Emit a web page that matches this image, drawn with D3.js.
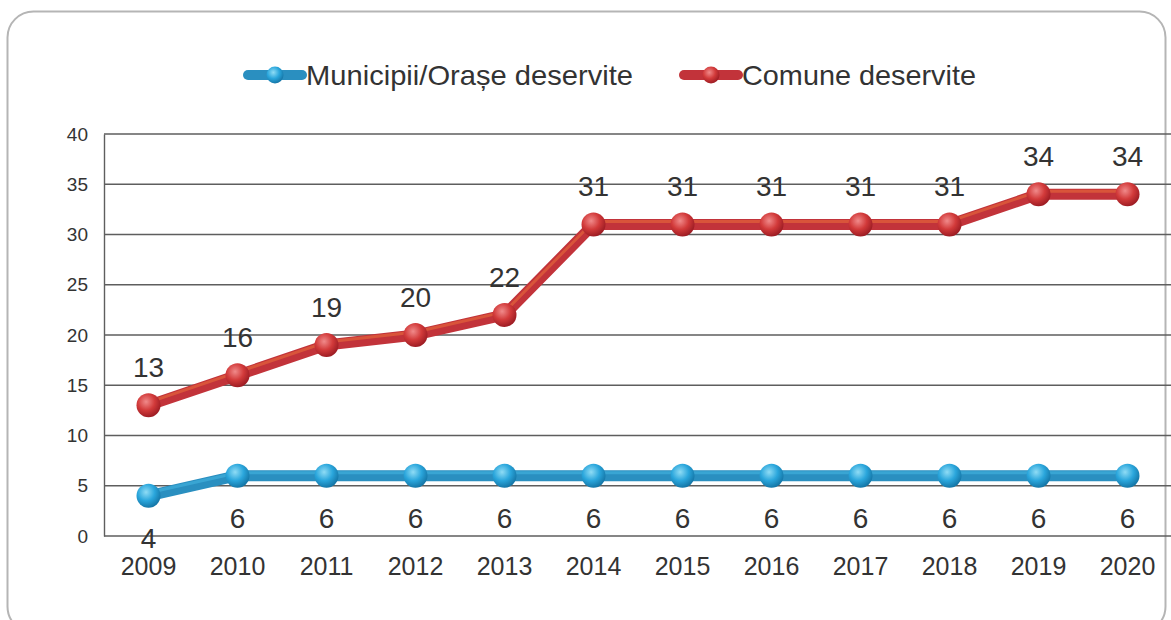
<!DOCTYPE html>
<html><head><meta charset="utf-8">
<script src="https://cdn.jsdelivr.net/npm/d3@7"></script>
<style>body{margin:0;background:#fff;}svg{display:block;font-family:"Liberation Sans",Arial,sans-serif;}</style>
</head><body>
<svg id="c" width="1171" height="620"></svg>
<script>
const years = ["2009","2010","2011","2012","2013","2014","2015","2016","2017","2018","2019","2020"];
const municipii = [4,6,6,6,6,6,6,6,6,6,6,6];
const comune = [13,16,19,20,22,31,31,31,31,31,34,34];
const yTicks = [0,5,10,15,20,25,30,35,40];
const seriesNames = ["Municipii/Orașe deservite","Comune deservite"];

const svg = d3.select("#c");
const defs = svg.append("defs");
function grad(id, c0, c1, c2){
  const g = defs.append("radialGradient").attr("id",id).attr("cx","40%").attr("cy","35%").attr("r","65%");
  g.append("stop").attr("offset","0%").attr("stop-color",c0);
  g.append("stop").attr("offset","55%").attr("stop-color",c1);
  g.append("stop").attr("offset","100%").attr("stop-color",c2);
}
grad("gBlue","#8fdcf5","#2aa6dc","#1577a8");
grad("gRed","#f08a8a","#d23a3a","#9e1d24");

// frame
svg.append("rect").attr("x",7.5).attr("y",11.5).attr("width",1158).attr("height",621)
  .attr("rx",26).attr("fill","#fff").attr("stroke","#b5b5b5").attr("stroke-width",2);

const pLeft = 104, pRight = 1172, pTop = 134, pBottom = 536;
const x = d3.scaleBand().domain(years).range([pLeft,pRight]);
const y = d3.scaleLinear().domain([0,40]).range([pBottom,pTop]);
const cx = d => x(d) + x.bandwidth()/2;

// gridlines
svg.append("g").selectAll("line").data(yTicks).join("line")
  .attr("x1",pLeft).attr("x2",pRight).attr("y1",d=>y(d)).attr("y2",d=>y(d))
  .attr("stroke","#5e5e5e").attr("stroke-width",1.4);
// y axis
const ya = svg.append("g").attr("transform",`translate(${pLeft},0)`)
  .call(d3.axisLeft(y).tickValues(yTicks).tickSize(0).tickPadding(16));
ya.select(".domain").attr("stroke","#5e5e5e").attr("stroke-width",1.4);
ya.selectAll("text").attr("font-size",19).attr("fill","#333").attr("font-family","Liberation Sans, Arial, sans-serif");
// x axis
const xa = svg.append("g").attr("transform",`translate(0,${pBottom})`)
  .call(d3.axisBottom(x).tickSize(0).tickPadding(21));
xa.select(".domain").remove();
xa.selectAll("text").attr("font-size",25).attr("fill","#333").attr("font-family","Liberation Sans, Arial, sans-serif");

function drawSeries(vals, main, hi, gid, labelDy){
  const line = d3.line().x((d,i)=>cx(years[i])).y(d=>y(d));
  svg.append("path").attr("d",line(vals)).attr("fill","none").attr("stroke",main)
    .attr("stroke-width",11).attr("stroke-linejoin","round");
  svg.append("path").attr("d",line(vals)).attr("fill","none").attr("stroke",hi)
    .attr("stroke-width",3).attr("stroke-linejoin","round").attr("transform","translate(0,-3)").attr("opacity",0.6);
  svg.append("g").selectAll("circle").data(vals).join("circle")
    .attr("cx",(d,i)=>cx(years[i])).attr("cy",d=>y(d)).attr("r",12).attr("fill",`url(#${gid})`);
  svg.append("g").selectAll("text").data(vals).join("text")
    .attr("x",(d,i)=>cx(years[i])).attr("y",d=>y(d)+labelDy)
    .attr("text-anchor","middle").attr("font-size",28).attr("fill","#333").text(d=>d);
}
drawSeries(municipii,"#2a8fc0","#45b4e0","gBlue",52);
drawSeries(comune,"#c2333a","#e86a3a","gRed",-28);

// legend
const leg = [{x:244,c:"#2a8fc0",g:"gBlue",t:seriesNames[0],w:327},{x:680,c:"#c2333a",g:"gRed",t:seriesNames[1],w:234}];
leg.forEach(l=>{
  svg.append("line").attr("x1",l.x+4).attr("x2",l.x+58).attr("y1",75).attr("y2",75)
    .attr("stroke",l.c).attr("stroke-width",10).attr("stroke-linecap","round");
  svg.append("circle").attr("cx",l.x+31).attr("cy",75).attr("r",8.5).attr("fill",`url(#${l.g})`);
  svg.append("text").attr("x",l.x+62).attr("y",85).attr("font-size",28).attr("fill","#333")
    .attr("textLength",l.w).attr("lengthAdjust","spacingAndGlyphs").text(l.t);
});
</script>
</body></html>
